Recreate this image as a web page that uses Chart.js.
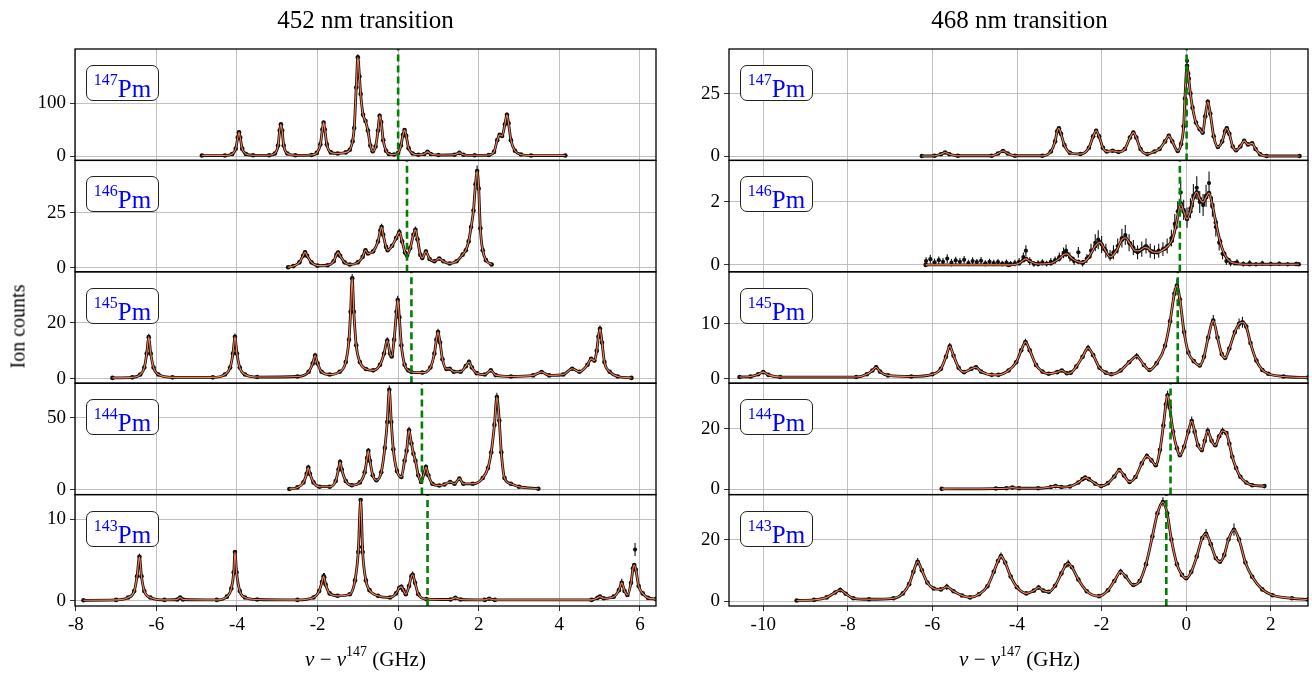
<!DOCTYPE html>
<html>
<head>
<meta charset="utf-8">
<script src="https://cdn.jsdelivr.net/npm/chart.js@4.4.1/dist/chart.umd.min.js"></script>
<style>
  body { margin: 0; background: #fff; width: 1312px; height: 678px; position: relative; overflow: hidden; font-family: "Liberation Serif", serif; }
  canvas { position: absolute; top: 0; }
  .title { position: absolute; top: 6px; font-size: 25px; text-align: center; color: #000; }
  .xlab { position: absolute; top: 646px; font-size: 21px; text-align: center; color: #000; }
  .xlab i { font-style: italic; }
  .xlab sup { font-size: 14px; position: relative; top: -2px; }
  .ylab { position: absolute; left: -32px; top: 315px; width: 100px; text-align: center; font-size: 20px; transform: rotate(-90deg); }
  .iso { position: absolute; width: 71px; height: 34px; border: 1px solid #222; border-radius: 7px; background: #fff;
         color: #0000ff; font-size: 25px; line-height: 34px; text-align: center; box-sizing: content-box; }
  .iso sup { font-size: 16px; position: relative; top: -3px; }
</style>
</head>
<body>
<canvas id="c452" width="665" height="650" style="left:0"></canvas>
<canvas id="c468" width="652" height="650" style="left:660px"></canvas>
<div class="title" style="left:75px;width:581px">452 nm transition</div>
<div class="title" style="left:729px;width:581px">468 nm transition</div>
<div class="xlab" style="left:75px;width:581px"><i>ν</i> − <i>ν</i><sup>147</sup> (GHz)</div>
<div class="xlab" style="left:729px;width:581px"><i>ν</i> − <i>ν</i><sup>147</sup> (GHz)</div>
<div class="ylab">Ion counts</div>
<script>
// panels top to bottom
const isotopes = ['147', '146', '145', '144', '143'];

const xTicks452 = [-8, -6, -4, -2, 0, 2, 4, 6];
const xTicks468 = [-10, -8, -6, -4, -2, 0, 2];
const xRange452 = [-8.02, 6.40];
const xRange468 = [-10.81, 2.88];

const yTicks452 = [[0, 100], [0, 25], [0, 20], [0, 50], [0, 10]];
const yTicks468 = [[0, 25], [0, 2], [0, 10], [0, 20], [0, 20]];
const yRange452 = [[-8.1, 201.7], [-1.8, 48.8], [-1.6, 38.3], [-3.5, 74], [-0.65, 13.06]];
const yRange468 = [[-1.55, 42.7], [-0.22, 3.32], [-0.82, 19.5], [-1.8, 35], [-1.6, 34.6]];

// green dashed reference positions (GHz)
const center452 = [0, 0.22, 0.33, 0.59, 0.73];
const center468 = [0.01, -0.15, -0.2, -0.37, -0.47];

// spectra: [x (GHz), counts, error]
const spec452_147 = [[-4.87,1],[-4.3,1],[-4.12,4],[-4.03,14],[-3.98,35],[-3.95,45,3],[-3.92,35],[-3.87,14],[-3.78,4],[-3.6,1.5],
  [-3.2,1.5],[-3.06,5],[-2.98,20],[-2.94,48],[-2.91,60,3],[-2.88,48],[-2.84,20],[-2.75,5],[-2.55,1.5],
  [-2.15,2],[-2.02,6],[-1.93,22],[-1.88,50],[-1.85,63,3],[-1.82,50],[-1.77,22],[-1.67,7],[-1.5,5],[-1.3,7],[-1.2,12],[-1.13,28],
  [-1.09,53],[-1.04,129,5],[-1.0,186,6],[-0.96,150],[-0.93,117,5],[-0.87,78],[-0.81,66],[-0.75,48],[-0.69,20],[-0.63,9],
  [-0.56,18],[-0.5,48],[-0.46,76,4],[-0.42,64],[-0.37,30],[-0.3,10],[-0.23,4],[-0.1,3],[0.0,6],[0.07,20],[0.12,40],[0.16,49,3],
  [0.2,38],[0.26,15],[0.36,5],[0.5,2.5],[0.65,4],[0.73,8],[0.81,4],[1.0,2],[1.4,2.5],[1.52,6],[1.62,2.5],[1.9,1.5],[2.25,2],
  [2.38,8],[2.46,30],[2.52,40],[2.58,38],[2.65,60],[2.70,78,4],[2.74,62],[2.8,30],[2.9,10],[3.05,3],[3.3,1],[4.15,1]];
const spec452_146 = [[-2.73,0.3],[-2.6,0.8],[-2.45,2.5],[-2.36,5.5],[-2.31,7.1,1],[-2.26,5.5],[-2.15,2.5],[-2.0,1],[-1.75,1.2],
  [-1.6,3],[-1.53,6],[-1.49,6.9,1],[-1.44,5.5],[-1.33,2.5],[-1.2,1.5],[-1.0,2.5],[-0.88,5],[-0.81,8,1],[-0.75,6.5],[-0.62,7.5],
  [-0.5,12],[-0.44,17],[-0.41,18.5,1.5],[-0.37,15],[-0.3,9.5],[-0.26,8],[-0.15,10],[-0.05,13.5],[0.03,16.2,1.5],[0.1,12],
  [0.17,7],[0.22,5.6],[0.3,9],[0.38,15],[0.43,17.3,1.5],[0.48,13],[0.55,6],[0.6,4.5],[0.69,7.4,1],[0.78,4],[0.9,3],[1.02,4.2],
  [1.12,3],[1.28,2],[1.45,3],[1.6,6],[1.68,8],[1.75,12],[1.81,18.5],[1.87,26],[1.92,38,2],[1.96,44,2.5],[2.0,36],[2.04,18],
  [2.1,8],[2.18,3.5],[2.32,1.5]];
const spec452_145 = [[-7.09,0.3],[-6.6,0.5],[-6.4,1.5],[-6.3,4],[-6.24,9],[-6.19,14.9,1.2],[-6.14,9],[-6.07,4],[-5.95,1.5],[-5.6,0.5],
  [-4.6,0.5],[-4.3,1.5],[-4.17,4],[-4.1,9],[-4.05,15,1.2],[-4.0,9],[-3.93,4],[-3.8,1.5],[-3.5,0.6],
  [-2.5,0.8],[-2.22,2.5],[-2.12,5.5],[-2.06,8.3,1],[-2.0,5.5],[-1.9,2.5],[-1.7,1.5],[-1.45,2.5],[-1.3,6],[-1.22,14],[-1.18,24],
  [-1.14,36,1.5],[-1.1,24],[-1.04,12],[-0.95,6],[-0.8,3.5],[-0.62,3],[-0.45,5],[-0.35,9],[-0.27,13.7,1.2],[-0.2,9],[-0.16,8],
  [-0.1,14],[-0.04,24,1.5],[-0.01,28.2,1.5],[0.03,22],[0.08,12],[0.16,5],[0.25,3],[0.33,2.4],[0.6,2.2],[0.8,4],[0.9,9],[0.95,14],
  [0.99,16.7,1.2],[1.04,13],[1.1,7],[1.2,3.5],[1.28,3.6],[1.38,2.5],[1.55,2.5],[1.68,4.5],[1.76,6,1],[1.83,4],[1.95,2],[2.15,1.5],
  [2.3,3],[2.42,1.3],[2.8,0.8],[3.35,1.2],[3.56,2.4],[3.75,1.2],[4.1,1.5],[4.32,3.6],[4.5,2.5],[4.7,5],[4.79,7.1],[4.87,6.5],
  [4.93,10],[4.97,15],[5.01,17.9,1.2],[5.06,13],[5.12,6],[5.25,2.5],[5.45,0.8],[5.79,0.3]];
const spec452_144 = [[-2.70,0.4],[-2.5,1.5],[-2.35,5],[-2.27,11],[-2.23,15.3,2],[-2.19,11],[-2.1,5],[-1.95,2],[-1.7,2],[-1.55,6],
  [-1.48,14],[-1.44,19.2,2],[-1.4,14],[-1.3,6],[-1.15,3],[-0.95,5],[-0.83,12],[-0.77,22],[-0.74,26.9,2],[-0.7,20],[-0.63,10],
  [-0.54,6.5],[-0.42,12],[-0.33,29],[-0.27,47],[-0.22,69.4,3],[-0.17,47],[-0.12,28],[-0.03,13],[0.08,8.8],[0.16,20],[0.21,27],
  [0.27,41.2,2.5],[0.33,32],[0.38,25],[0.43,20],[0.5,10],[0.57,5.3],[0.64,11],[0.69,15.7,2],[0.75,10],[0.85,4],[1.02,2.8],
  [1.15,3.5],[1.29,5.3],[1.4,4],[1.52,7.6],[1.62,4],[1.85,4],[2.1,8],[2.23,15],[2.31,26],[2.39,45],[2.45,64.4,3],[2.51,48],
  [2.56,26],[2.64,8],[2.8,4],[3.0,2],[3.48,0.6]];
const spec452_143 = [[-7.81,0.05],[-7.0,0.1],[-6.7,0.4],[-6.55,1.2],[-6.48,3],[-6.42,5.4,0.4],[-6.37,3],[-6.3,1.2],[-6.15,0.4],
  [-5.8,0.1],[-5.48,0.15],[-5.41,0.4],[-5.34,0.15],[-4.5,0.1],[-4.25,0.5],[-4.14,1.5],[-4.08,3.5],[-4.05,6.0],[-4.01,3.5],
  [-3.93,1.2],[-3.8,0.4],[-3.5,0.15],[-2.5,0.1],[-2.1,0.4],[-1.96,1.2],[-1.89,2.3],[-1.85,3.0,0.4],[-1.8,2.0],[-1.7,0.9],
  [-1.5,0.6],[-1.2,0.8],[-1.07,2.5],[-0.99,6],[-0.93,12.4],[-0.88,6],[-0.8,2.5],[-0.71,1.3],[-0.5,0.6],[-0.2,0.4],[-0.05,0.9],
  [0.03,1.6],[0.08,1.7,0.3],[0.13,1.3],[0.19,0.8],[0.27,1.8],[0.33,3.0],[0.36,3.2,0.4],[0.42,2.2],[0.5,0.8],[0.7,0.2],[1.3,0.15],
  [1.42,0.35],[1.55,0.15],[2.15,0.1],[2.26,0.25],[2.4,0.1],[4.8,0.1],[4.95,0.35],[5.01,0.5],[5.1,0.3],[5.35,0.5],[5.48,1.3],
  [5.55,2.2,0.5],[5.62,1.2],[5.69,0.7],[5.78,2.2],[5.83,4.0],[5.86,4.4],[5.9,3.8],[5.97,1.8],[6.07,0.9],[6.2,0.35],[6.4,0.2]];

const spec468_147 = [[-6.25,0.2],[-5.95,0.3],[-5.8,0.9],[-5.7,1.6],[-5.6,0.9],[-5.4,0.3],[-4.6,0.3],[-4.45,1.2],[-4.33,2.2],
  [-4.22,1.2],[-4.05,0.3],[-3.4,0.3],[-3.2,2],[-3.1,6],[-3.05,10],[-3.01,11.2,0.8],[-2.96,9],[-2.88,4.5],[-2.75,1.5],[-2.5,1],
  [-2.3,3.5],[-2.2,8],[-2.13,10.2,0.8],[-2.06,8],[-1.97,3.5],[-1.88,2],[-1.74,2.3],[-1.6,1.8],[-1.45,3],[-1.33,7.5],
  [-1.25,9.5,0.8],[-1.18,7.5],[-1.08,3],[-0.92,1],[-0.75,2],[-0.63,3],[-0.5,6],[-0.41,8.2,0.8],[-0.33,6],[-0.2,2.2],[-0.12,5],
  [-0.06,12],[-0.03,23],[0.02,36],[0.06,31],[0.1,25],[0.15,19.4],[0.23,13.5],[0.32,10.8],[0.39,9.5],[0.45,16],[0.51,21.7,1],
  [0.57,17],[0.65,8],[0.75,3.8],[0.85,6],[0.92,10],[0.96,11.2,0.8],[1.02,9],[1.1,4],[1.18,2.5],[1.28,4],[1.37,6.2],[1.46,4.8],
  [1.56,5.2],[1.64,3],[1.75,0.9],[1.9,0.2],[2.68,0.2]];
const spec468_146 = [[-6.16,0.0],[-4.2,0.0],[-3.95,0.05],[-3.85,0.15],[-3.79,0.19],[-3.7,0.12],[-3.5,0.03],[-3.2,0.05],
  [-3.0,0.2],[-2.88,0.34],[-2.82,0.35],[-2.7,0.2],[-2.55,0.1],[-2.44,0.08],[-2.3,0.25],[-2.15,0.6],[-2.04,0.72],[-1.93,0.5],
  [-1.79,0.25],[-1.65,0.45],[-1.52,0.8],[-1.44,0.86],[-1.33,0.68],[-1.2,0.45],[-1.11,0.45],[-0.98,0.55],[-0.92,0.54],
  [-0.8,0.42],[-0.68,0.4],[-0.5,0.52],[-0.34,0.77],[-0.25,1.2],[-0.18,1.7],[-0.13,1.96],[-0.06,1.7],[0.02,1.46],[0.1,1.7],
  [0.18,2.15],[0.25,2.31],[0.32,2.1],[0.4,1.99],[0.47,2.15],[0.54,2.28],[0.62,1.9],[0.7,1.35],[0.8,0.75],[0.9,0.35],[1.0,0.15],
  [1.15,0.05],[1.5,0.02],[2.66,0.02]];
const spec468_145 = [[-10.56,0.3],[-10.3,0.4],[-10.12,0.8],[-10.0,1.2],[-9.88,0.7],[-9.6,0.3],[-7.8,0.3],[-7.55,0.8],[-7.42,1.5],
  [-7.33,2.1,0.4],[-7.24,1.3],[-7.05,0.6],[-6.5,0.4],[-6.0,0.8],[-5.8,1.8],[-5.68,4],[-5.59,5.9,0.6],[-5.5,4.2],[-5.38,2],
  [-5.25,1.2],[-5.08,1.8],[-4.97,2.1,0.4],[-4.85,1.3],[-4.6,0.7],[-4.44,0.7],[-4.2,1.5],[-4.02,3],[-3.9,5.2],[-3.8,6.7,0.6],
  [-3.7,5.2],[-3.55,2.5],[-3.4,1.3],[-3.25,0.9],[-3.05,1.2],[-2.94,1.5],[-2.82,1.0],[-2.73,1.1],[-2.6,2.2],[-2.45,4],
  [-2.32,5.6,0.6],[-2.2,4.3],[-2.05,2],[-1.9,1.1],[-1.77,0.8],[-1.55,1.5],[-1.35,3],[-1.17,4.1,0.6],[-1.0,2.5],[-0.87,1.6],
  [-0.7,2.8],[-0.5,6],[-0.38,10.5],[-0.28,15.5,1],[-0.22,17.0,1.2],[-0.15,14.5],[-0.05,8.5],[0.05,4.8],[0.18,3.2],[0.32,2.4],
  [0.42,4],[0.52,7.5],[0.64,10.6,1],[0.74,7.5],[0.84,4.5],[0.92,3.8],[1.02,5.5],[1.15,8.5],[1.25,10,1],[1.33,10.3,1],[1.42,9.5],
  [1.52,6.5],[1.66,3.3],[1.8,1.6],[1.94,0.9],[2.3,0.4],[2.88,0.2]];
const spec468_144 = [[-5.78,0.1],[-4.5,0.2],[-4.25,0.3],[-4.11,0.5],[-3.95,0.3],[-3.5,0.3],[-3.2,0.7],[-3.09,1.0],[-2.95,0.7],
  [-2.75,0.9],[-2.55,2.2],[-2.45,3.3],[-2.39,3.8,0.6],[-2.3,3.3],[-2.15,1.8],[-2.01,1.0],[-1.85,2],[-1.7,4.2],[-1.58,6.3,0.7],
  [-1.47,4.5],[-1.34,2.4],[-1.2,4],[-1.05,8.5],[-0.93,10.9,1],[-0.82,9.5],[-0.72,7.9],[-0.62,13],[-0.54,21],[-0.48,28],
  [-0.44,31,1.5],[-0.39,27],[-0.31,19],[-0.22,13.5],[-0.15,11.2],[-0.05,14],[0.05,19],[0.13,22.5,1.5],[0.2,19],[0.28,14.5],
  [0.37,12.9],[0.44,16],[0.51,19.2,1.2],[0.6,16],[0.69,14.5],[0.78,17.5],[0.86,19.2,1.2],[0.95,18.5],[1.02,15],[1.09,10.7],
  [1.18,7],[1.28,4.1],[1.42,2.2],[1.56,1.3],[1.85,1.0]];
const spec468_143 = [[-9.21,0.2],[-8.8,0.4],[-8.5,1.2],[-8.3,2.8],[-8.18,3.6,0.8],[-8.05,2.4],[-7.87,0.9],[-7.5,0.6],[-6.92,0.9],
  [-6.7,2.5],[-6.55,5.5],[-6.45,9.5],[-6.35,12.8,1.2],[-6.25,10],[-6.12,6],[-5.97,4.1],[-5.8,3.8],[-5.66,4.6,1],[-5.5,3.2],
  [-5.3,1.8],[-5.11,1.2],[-4.9,2.2],[-4.7,4.8],[-4.55,9.5],[-4.45,13],[-4.38,14.6,1.2],[-4.28,12.5],[-4.15,8],[-4.0,4.5],
  [-3.78,2.5],[-3.6,3.4],[-3.49,4.4,0.8],[-3.38,3.4],[-3.25,3.0],[-3.1,5],[-2.95,9],[-2.85,11.6],[-2.79,12.2,1.2],[-2.7,11],
  [-2.55,7],[-2.35,3.2],[-2.06,1.6],[-1.85,3.5],[-1.7,6.5],[-1.55,9.5,1],[-1.43,8],[-1.25,5.2],[-1.1,6.5],[-0.95,12],[-0.8,21],
  [-0.68,28.5],[-0.55,32.2,1.5],[-0.45,28.5],[-0.35,20],[-0.22,12],[-0.1,8.5],[0.0,7.4],[0.12,9.5],[0.25,14.5],[0.38,20.5],
  [0.47,21.9,1.5],[0.58,18.5],[0.7,14],[0.8,12.8],[0.9,15],[1.0,20],[1.13,23.2,2],[1.25,20],[1.4,12.5],[1.56,7.9],[1.8,3.8],
  [2.04,1.9],[2.5,0.9],[2.88,0.5]];

// measured points lying off the fitted curve
const extra452_143 = [[-4.04,4.0,0.5],[-1.83,2.9,0.5],[-0.95,8.5,0.7],[-0.9,6.6,0.6],[5.88,6.3,0.8]];
const extra468_147 = [[0.02,38,1.2],[0.05,33,1.1]];
const extra468_146 = [[-6.15,0.12,0.12],[-6.05,0.18,0.14],[-5.95,0.08,0.12],[-5.85,0.15,0.12],[-5.75,0.1,0.12],[-5.65,0.2,0.14],
  [-5.55,0.07,0.12],[-5.45,0.14,0.12],[-5.35,0.1,0.12],[-5.25,0.16,0.12],[-5.15,0.06,0.1],[-5.05,0.12,0.12],[-4.95,0.09,0.1],
  [-4.85,0.13,0.12],[-4.75,0.05,0.1],[-4.65,0.1,0.1],[-4.55,0.06,0.1],[-4.45,0.09,0.1],[-4.35,0.04,0.09],[-4.25,0.07,0.1],
  [-4.15,0.03,0.09],[-4.05,0.06,0.1],[-3.95,0.1,0.12],[-3.85,0.25,0.14],[-3.79,0.45,0.17],[-3.7,0.12,0.12],[-3.6,0.03,0.09],
  [-3.5,0.05,0.1],[-3.4,0.08,0.1],[-3.3,0.04,0.09],[-3.2,0.1,0.12],[-3.1,0.15,0.12],[-3.0,0.25,0.14],[-2.9,0.38,0.17],
  [-2.84,0.45,0.2],[-2.75,0.25,0.14],[-2.65,0.12,0.12],[-2.55,0.4,0.17],[-2.45,0.05,0.1],[-2.35,0.2,0.14],[-2.25,0.45,0.22],
  [-2.15,0.7,0.27],[-2.08,0.8,0.3],[-2.0,0.65,0.27],[-1.9,0.45,0.22],[-1.8,0.3,0.17],[-1.72,0.4,0.22],[-1.62,0.6,0.24],
  [-1.52,0.85,0.3],[-1.44,0.95,0.32],[-1.35,0.7,0.27],[-1.25,0.55,0.24],[-1.15,0.4,0.22],[-1.05,0.5,0.24],[-0.95,0.6,0.24],
  [-0.85,0.45,0.22],[-0.75,0.4,0.22],[-0.65,0.45,0.22],[-0.55,0.5,0.22],[-0.45,0.6,0.24],[-0.35,0.85,0.27],[-0.27,1.3,0.32],
  [-0.2,1.7,0.32],[-0.13,2.3,0.37],[-0.06,1.75,0.32],[0.02,1.5,0.32],[0.1,1.8,0.32],[0.17,2.2,0.37],[0.25,2.45,0.37],[0.32,2.0,0.35],
  [0.4,1.9,0.35],[0.47,2.2,0.35],[0.54,2.6,0.37],[0.62,1.85,0.32],[0.7,1.2,0.3],[0.78,0.7,0.24],[0.86,0.35,0.17],[0.95,0.12,0.12],
  [1.05,0.06,0.1],[1.2,0.08,0.1],[1.35,0.03,0.08],[1.5,0.06,0.09],[1.65,0.02,0.07],[1.8,0.05,0.08],[2.0,0.03,0.07],
  [2.2,0.04,0.07],[2.4,0.02,0.07],[2.6,0.03,0.07]];

const FONT = 'Liberation Serif';
const GRID = '#b0b0b0';
const FIT = '#ff7f50';

const toPts = arr => arr.map(p => ({ x: p[0], y: p[1], e: p[2] || 0 }));

// vertical error bars, drawn right after their own dataset
const errorBars = {
  id: 'errorBars',
  afterDatasetDraw(chart, args) {
    const ds = chart.data.datasets[args.index];
    if (!ds.errorBars) return;
    const meta = args.meta;
    const xs = chart.scales[meta.xAxisID], ys = chart.scales[meta.yAxisID];
    const ctx = chart.ctx;
    ctx.save();
    ctx.strokeStyle = '#111';
    ctx.lineWidth = 1.1;
    ds.data.forEach(p => {
      if (!p.e) return;
      const px = xs.getPixelForValue(p.x);
      ctx.beginPath();
      ctx.moveTo(px, ys.getPixelForValue(p.y - p.e));
      ctx.lineTo(px, ys.getPixelForValue(p.y + p.e));
      ctx.stroke();
    });
    ctx.restore();
  }
};

// black frame round every panel
const frames = {
  id: 'frames',
  afterDraw(chart) {
    const { ctx, chartArea } = chart;
    ctx.save();
    ctx.strokeStyle = '#000';
    ctx.lineWidth = 1.3;
    Object.values(chart.scales).filter(s => s.axis === 'y').forEach(s => {
      ctx.strokeRect(chartArea.left, s.top, chartArea.right - chartArea.left, s.bottom - s.top);
    });
    ctx.restore();
  }
};

function makeChart(canvasId, xTicks, xRange, yTicks, yRange, centers, spectra, extras, pad) {
  const scales = {
    x: {
      type: 'linear', position: 'bottom', min: xRange[0], max: xRange[1],
      afterBuildTicks: s => { s.ticks = xTicks.map(v => ({ value: v })); },
      afterFit: s => { s.height = 44; },
      grid: { color: GRID, lineWidth: 0.8, tickLength: 5, tickColor: '#000' },
      border: { display: false },
      ticks: { color: '#000', font: { family: FONT, size: 19 }, maxRotation: 0, autoSkip: false, padding: 3, callback: v => String(v) }
    }
  };
  // bottom panel first so that the stack is built upward
  for (let i = 4; i >= 0; i--) {
    scales['y' + i] = {
      type: 'linear', position: 'left', stack: 'panels', stackWeight: 1,
      min: yRange[i][0], max: yRange[i][1],
      afterBuildTicks: s => { s.ticks = yTicks[i].map(v => ({ value: v })); },
      afterFit: s => { s.width = 50; },
      grid: { color: GRID, lineWidth: 0.8, tickLength: 5, tickColor: '#000' },
      border: { display: false },
      ticks: { color: '#000', font: { family: FONT, size: 19 }, padding: 4, callback: v => String(v) }
    };
  }
  const datasets = [];
  spectra.forEach((pts, i) => {
    const yid = 'y' + i;
    datasets.push({ data: toPts(pts), yAxisID: yid, borderColor: FIT, borderWidth: 1.1, pointRadius: 0,
      cubicInterpolationMode: 'monotone', order: 1 });
    datasets.push({ data: toPts(pts), yAxisID: yid, borderColor: '#111', borderWidth: 2.8, pointRadius: 2.3,
      pointBackgroundColor: '#111', pointBorderWidth: 0, cubicInterpolationMode: 'monotone', order: 2, errorBars: true });
    if (extras[i]) {
      datasets.push({ data: toPts(extras[i]), yAxisID: yid, showLine: false, pointRadius: 2.1,
        pointBackgroundColor: '#111', pointBorderWidth: 0, order: 3, errorBars: true });
    }
    datasets.push({ data: [{ x: centers[i], y: yRange[i][0] }, { x: centers[i], y: yRange[i][1] }], yAxisID: yid,
      borderColor: '#008000', borderWidth: 2.6, borderDash: [7, 4], pointRadius: 0, order: 0 });
  });
  const chart = new Chart(document.getElementById(canvasId), {
    type: 'line',
    data: { datasets },
    options: {
      responsive: false, animation: false, events: [],
      layout: { padding: pad },
      plugins: { legend: { display: false }, tooltip: { enabled: false } },
      scales
    },
    plugins: [errorBars, frames]
  });
  return chart;
}

const left = makeChart('c452', xTicks452, xRange452, yTicks452, yRange452, center452,
  [spec452_147, spec452_146, spec452_145, spec452_144, spec452_143],
  [null, null, null, null, extra452_143],
  { left: 25, right: 9, top: 49, bottom: 0 });
const right = makeChart('c468', xTicks468, xRange468, yTicks468, yRange468, center468,
  [spec468_147, spec468_146, spec468_145, spec468_144, spec468_143],
  [extra468_147, extra468_146, null, null, null],
  { left: 19, right: 2, top: 49, bottom: 0 });

// isotope tags placed inside each panel
function addTags(chart, offsetX) {
  isotopes.forEach((iso, i) => {
    const s = chart.scales['y' + i];
    const d = document.createElement('div');
    d.className = 'iso';
    d.style.left = (offsetX + chart.chartArea.left + 11) + 'px';
    d.style.top = (s.top + 16) + 'px';
    d.innerHTML = '<sup>' + iso + '</sup>Pm';
    document.body.appendChild(d);
  });
}
addTags(left, 0);
addTags(right, 660);
</script>
</body>
</html>
